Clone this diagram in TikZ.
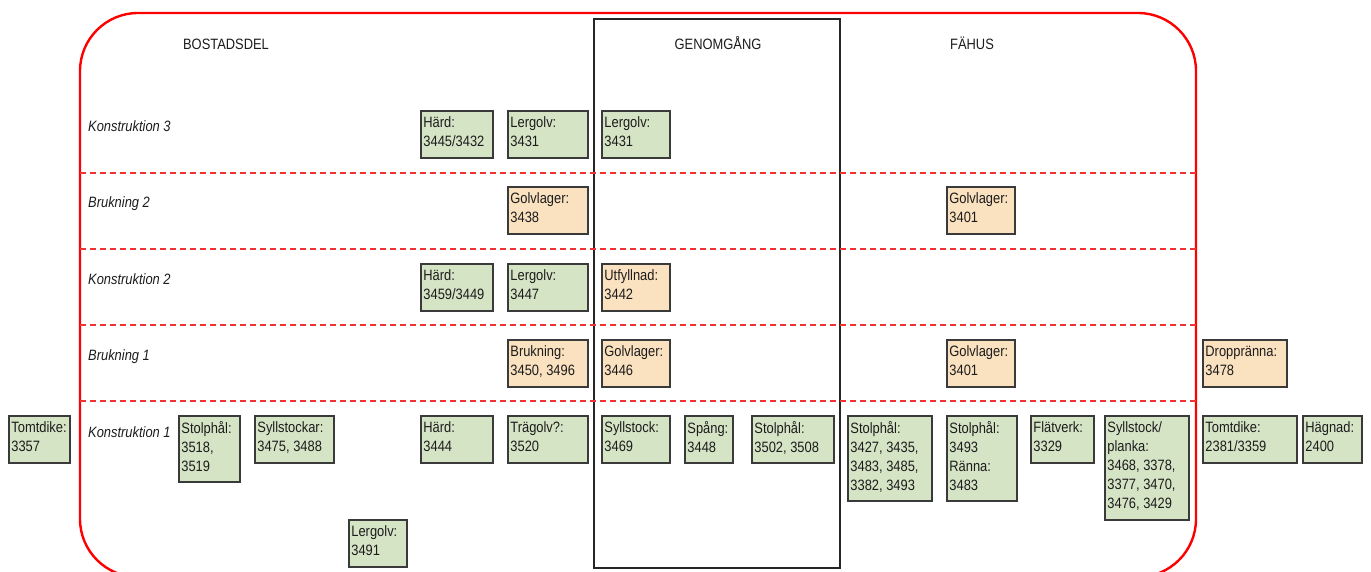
\documentclass[tikz,border=0pt]{standalone}
\usepackage{fontspec}
\setmainfont{Liberation Sans}[FakeStretch=0.86]
\definecolor{gfill}{RGB}{214,228,198}
\definecolor{ofill}{RGB}{250,225,191}
\definecolor{bord}{RGB}{58,58,58}
\definecolor{txtc}{RGB}{28,28,28}
\definecolor{dashred}{RGB}{240,50,50}
\newcommand\cbox[7]{%
  \node[#1, minimum width=#5pt, minimum height=#6pt] (#2) at (#3,#4) {};
  \node[txt] (#2-t) at (#2.north west) {#7};}
\begin{document}
\begin{tikzpicture}[x=1pt,y=-1pt,
  box/.style={draw=bord, line width=1.6pt, inner sep=0pt, anchor=north west},
  gbox/.style={box, fill=gfill},
  obox/.style={box, fill=ofill},
  txt/.style={anchor=north west, align=left, inner xsep=3.2pt, inner ysep=6.6pt,
    text=txtc, font=\fontsize{15}{19}\selectfont, execute at begin node=\strut},
  rowlbl/.style={anchor=base west, inner sep=0pt, text=txtc,
    font=\fontsize{15}{18}\selectfont\itshape},
  head/.style={anchor=base, inner sep=0pt, text=txtc, font=\fontsize{15}{18}\selectfont},
  sep/.style={draw=dashred, line width=1.1pt, dash pattern=on 6pt off 4pt}]
\useasboundingbox (0,0) rectangle (1371,572);
% outer red frame
\draw[red, line width=2.4pt, rounded corners=58pt] (80,13) rectangle (1196,577);
% passage frame
\draw[black!85, line width=1.5pt] (594,19) rectangle (840,568);
% row separators
\foreach \yy in {173,249,325,401} \draw[sep] (80,\yy) -- (1196,\yy);
% headers
\node[head] (hb) at (226,50) {BOSTADSDEL};
\node[head] (hg) at (718,50) {GENOMGÅNG};
\node[head] (hf) at (972,50) {FÄHUS};
% row labels
\node[rowlbl] (r3) at (88,132) {Konstruktion 3};
\node[rowlbl] (r4) at (88,208) {Brukning 2};
\node[rowlbl] (r5) at (88,284) {Konstruktion 2};
\node[rowlbl] (r6) at (88,360) {Brukning 1};
\node[rowlbl] (r7) at (88,437) {Konstruktion 1};
% Konstruktion 3
\cbox{gbox}{k3a}{420}{110}{72}{47}{Härd:\\3445/3432}
\cbox{gbox}{k3b}{507}{110}{80}{47}{Lergolv:\\3431}
\cbox{gbox}{k3c}{601}{110}{68}{47}{Lergolv:\\3431}
% Brukning 2
\cbox{obox}{b2a}{507}{186}{80}{47}{Golvlager:\\3438}
\cbox{obox}{b2b}{946}{186}{68}{47}{Golvlager:\\3401}
% Konstruktion 2
\cbox{gbox}{k2a}{420}{263}{72}{47}{Härd:\\3459/3449}
\cbox{gbox}{k2b}{507}{263}{80}{47}{Lergolv:\\3447}
\cbox{obox}{k2c}{601}{263}{68}{47}{Utfyllnad:\\3442}
% Brukning 1
\cbox{obox}{b1a}{507}{339}{80}{47}{Brukning:\\3450, 3496}
\cbox{obox}{b1b}{601}{339}{68}{47}{Golvlager:\\3446}
\cbox{obox}{b1c}{946}{339}{68}{47}{Golvlager:\\3401}
\cbox{obox}{b1d}{1202}{339}{84}{47}{Droppränna:\\3478}
% Konstruktion 1
\cbox{gbox}{t1}{8}{415}{61}{47}{Tomtdike:\\3357}
\cbox{gbox}{k1a}{178}{415}{61}{66}{Stolphål:\\3518,\\3519}
\cbox{gbox}{k1b}{254}{415}{79}{47}{Syllstockar:\\3475, 3488}
\cbox{gbox}{k1c}{420}{415}{72}{47}{Härd:\\3444}
\cbox{gbox}{k1d}{507}{415}{80}{47}{Trägolv?:\\3520}
\cbox{gbox}{k1e}{601}{415}{68}{47}{Syllstock:\\3469}
\cbox{gbox}{k1f}{684}{415}{48}{47}{Spång:\\3448}
\cbox{gbox}{k1g}{751}{415}{82}{47}{Stolphål:\\3502, 3508}
\cbox{gbox}{k1h}{847}{415}{84}{85}{Stolphål:\\3427, 3435,\\3483, 3485,\\3382, 3493}
\cbox{gbox}{k1i}{946}{415}{70}{85}{Stolphål:\\3493\\Ränna:\\3483}
\cbox{gbox}{k1j}{1030}{415}{63}{47}{Flätverk:\\3329}
\cbox{gbox}{k1k}{1104}{415}{84}{104}{Syllstock/\\planka:\\3468, 3378,\\3377, 3470,\\3476, 3429}
\cbox{gbox}{t2}{1202}{415}{94}{47}{Tomtdike:\\2381/3359}
\cbox{gbox}{t3}{1302}{415}{59}{47}{Hägnad:\\2400}
\cbox{gbox}{lg}{348}{519}{58}{47}{Lergolv:\\3491}
\end{tikzpicture}
\end{document}
